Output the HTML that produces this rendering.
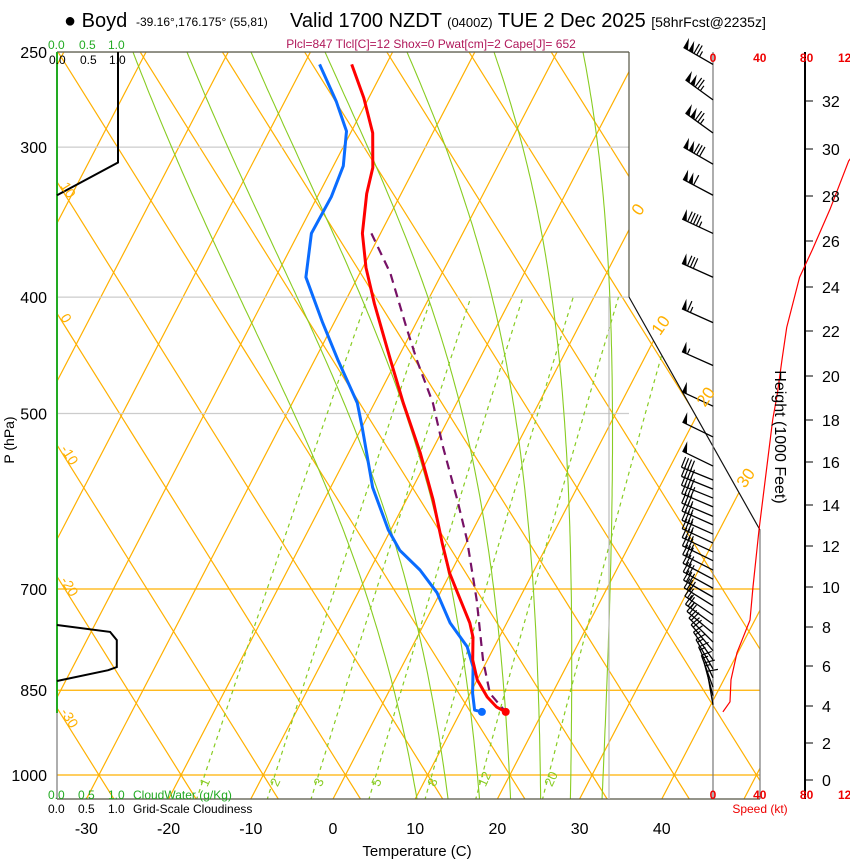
<!DOCTYPE html>
<html><head><meta charset="utf-8"><style>
html,body{margin:0;padding:0;background:#fff;}
svg{display:block;font-family:"Liberation Sans",Arial,sans-serif;}
</style></head><body>
<svg id="chart" width="850" height="860" viewBox="0 0 850 860" xmlns="http://www.w3.org/2000/svg">
<defs><clipPath id="plotclip"><path d="M57,52 L629,52 L629,297 L760,530 L760,799 L57,799 Z"/></clipPath></defs>
<g id="grid" clip-path="url(#plotclip)"></g>
<g id="frame"></g>
<g id="series"></g>
<g id="winds"></g>
<g id="labels"></g>
<text x="64" y="27" font-size="20">● Boyd</text>
<text x="136" y="26" font-size="12">-39.16°,176.175° (55,81)</text>
<text x="290" y="27" font-size="20">Valid 1700 NZDT <tspan font-size="13">(0400Z)</tspan> TUE 2 Dec 2025 <tspan font-size="14">[58hrFcst@2235z]</tspan></text>
<text x="431" y="48" font-size="12" fill="#b0185a" text-anchor="middle">Plcl=847 Tlcl[C]=12 Shox=0 Pwat[cm]=2 Cape[J]= 652</text>
<text x="417" y="856" font-size="15" text-anchor="middle">Temperature (C)</text>
<text transform="translate(14,440) rotate(-90)" font-size="14" text-anchor="middle">P (hPa)</text>
<text transform="translate(775,437) rotate(90)" font-size="16" text-anchor="middle">Height (1000 Feet)</text>
<text x="760" y="813" font-size="12" fill="#e00" text-anchor="middle">Speed (kt)</text>
<g font-size="12" fill="#2a2"><text x="48" y="49">0.0</text><text x="79" y="49">0.5</text><text x="108" y="49">1.0</text></g>
<g font-size="12"><text x="49" y="64">0.0</text><text x="80" y="64">0.5</text><text x="109" y="64">1.0</text></g>
<g font-size="12" fill="#2a2"><text x="48" y="799">0.0</text><text x="78" y="799">0.5</text><text x="108" y="799">1.0</text><text x="133" y="799">CloudWater (g/Kg)</text></g>
<g font-size="12"><text x="48" y="813">0.0</text><text x="78" y="813">0.5</text><text x="108" y="813">1.0</text><text x="133" y="813">Grid-Scale Cloudiness</text></g>
<script>
// ---- data ----
const tempP = [256,273,292,312,328,354,378,405,451,490,539,590,641,679,705,747,768,802,833,861,878,886];
const tempT = [-44.2,-40.6,-37.3,-35.1,-34.2,-32.2,-29.6,-26.3,-20.8,-16.5,-11.3,-6.75,-2.9,-0.1,2.1,5.5,6.8,8.2,10.0,12.3,14.1,15.5];
const dewP = [256,275,291,311,330,354,385,420,451,490,513,576,625,650,675,705,747,782,813,855,883,886];
const dewT = [-48.1,-43.7,-40.6,-38.8,-38.3,-38.4,-36.3,-31.4,-27.2,-22.1,-20.0,-14.9,-10.3,-7.6,-3.9,-0.4,3.1,6.7,8.7,10.3,11.6,12.6];
const parcelP = [354,382,424,451,490,533,590,637,715,802,855,886];
const parcelT = [-31.1,-26.3,-20.9,-17.6,-12.9,-8.9,-3.8,-0.1,4.9,9.45,12.4,15.5];
const speedP = [300,308,338,365,385,424,451,481,506,625,697,743,791,833,869,886];
const speedKt = [125,116,100,85,74,63,59,55,51,39.3,34.2,31.6,20.5,15.4,14.5,8.5];
const barbP = [256,274,292,310,329,354,385,420,456,493,523,553,568,578,588,598,609,619,630,641,652,663,675,687,699,711,723,736,749,762,775,788,802,816,830,845,859,874];
const barbDir = [300,306,306,300,298,295,294,294,294,295,296,296,292,292,292,293,293,294,294,295,295,296,297,298,299,300,302,304,306,310,315,320,325,330,335,340,345,350];
const barbKt = [125,125,125,130,110,95,80,65,55,50,50,50,40,40,40,38,37,36,35,35,34,33,32,31,30,29,28,27,25,22,20,18,16,15,15,14,14,10];
const cloudTopP = [250,309,329];
const cloudTopF = [1.0,1.0,0];
const cloudLowP = [750,760,772,813,818,835];
const cloudLowF = [0,0.87,0.98,0.98,0.84,0];
const xTicks = [-30,-20,-10,0,10,20,30,40];
const pTicks = [250,300,400,500,700,850,1000];
const hTicks = [0,2,4,6,8,10,12,14,16,18,20,22,24,26,28,30,32];
const hTickY = [780,743,706,666,627,587,546,505,462,420,376,331,287,241,196,149,101];
const mixW = [1,2,3,5,8,12,20];
const moistTopX = [133,187,251,325,407,494,583];
const speedTicks = [0,40,80,120];

// ---- axis functions ----
const yP = p => 775 + 521.5*Math.log(p/1000);
const xT = (T,p) => 333 + 8.22*T + 0.52*(799 - yP(p));
const xSpd = s => 713 + s*1.17;
const xCloud = f => 57 + f*61;
function yToP(y){return 1000*Math.exp((y-775)/521.5);}
const NS='http://www.w3.org/2000/svg';
function mk(tag, attrs, parent){const e=document.createElementNS(NS,tag);for(const k in attrs)e.setAttribute(k,attrs[k]);parent.appendChild(e);return e;}
const grid=document.getElementById('grid'), frame=document.getElementById('frame'),
 series=document.getElementById('series'), winds=document.getElementById('winds'), labels=document.getElementById('labels');
const OR='#ffb000', GR='#88cc22';

for(let T=-110;T<=60;T+=10){
  const l=mk('line',{x1:xT(T,1050),y1:yP(1050),x2:xT(T,240),y2:yP(240),stroke:OR,'stroke-width':1.2},grid);
  
  
}
for(let th=-60;th<=100;th+=10){
  const x0=xT(th,1000);
  const l=mk('line',{x1:x0+0.625*(799-775),y1:799,x2:x0-0.625*(775-40),y2:40,stroke:OR,'stroke-width':1.2},grid);
  
  
}
pTicks.forEach(p=>{
  const y=yP(p), orange=(p>=700);
  const l=mk('line',{x1:57,y1:y,x2:orange?760:629,y2:y,stroke:orange?OR:'#ccc','stroke-width':1.2},grid);
  
  
});
function es(Tc){return 6.112*Math.exp(17.67*Tc/(Tc+243.5));}
function tdFromW(w,p){const e=w*p/(622+w);const a=Math.log(e/6.112);return 243.5*a/(17.67-a);}
mixW.forEach(w=>{
  let d='';
  for(let p=1050;p>=400;p-=10){d+=(p===1050?'M':'L')+xT(tdFromW(w,p),p).toFixed(1)+','+yP(p).toFixed(1);}
  const l=mk('path',{d:d,fill:'none',stroke:GR,'stroke-width':1.2,'stroke-dasharray':'4,4'},grid);
  
  
  const lp=1020, lx=xT(tdFromW(w,lp),lp);
  const t=mk('text',{x:lx+6,y:yP(lp)+2,'font-size':13,fill:GR,transform:'rotate(-65 '+(lx+6)+' '+(yP(lp)+2)+')'},labels);
  t.textContent=w;
  
  
});
function moistStep(Tk,p){const Rd=287,cp=1004,Lv=2.5e6,eps=0.622;const e=es(Tk-273.15);const rs=eps*e/(p-e);
  return (Rd*Tk+Lv*rs)/(cp+Lv*Lv*rs*eps/(Rd*Tk*Tk));}
moistTopX.forEach(x0=>{
  let T=(x0-333-0.52*(799-yP(250)))/8.22+273.15, p=250, d='M'+x0+','+yP(250).toFixed(1);
  while(p<1050){const dl=0.01;const np=p*Math.exp(dl);T+=moistStep(T,p)*dl;p=np;d+='L'+xT(T-273.15,p).toFixed(1)+','+yP(p).toFixed(1);}
  const l=mk('path',{d:d,fill:'none',stroke:GR,'stroke-width':1.1},grid);
  
  
});
[[57,52,629,52,'#554'],[629,52,629,297,'#554'],[629,297,760,530,'#111'],[760,530,760,799,'#777'],[57,799,760,799,'#554'],[713,52,713,799,'#777'],[609,297,609,799,'#bbb'],[57,713,57,799,'#777']].forEach(a=>{
  const l=mk('line',{x1:a[0],y1:a[1],x2:a[2],y2:a[3],stroke:a[4],'stroke-width':1.2},frame);
  
  
});
const ga=mk('line',{x1:57,y1:52,x2:57,y2:713,stroke:'#2a2','stroke-width':2},frame);


const ha=mk('line',{x1:805,y1:52,x2:805,y2:799,stroke:'#000','stroke-width':2},frame);


hTicks.forEach((h,i)=>{
  mk('line',{x1:805,y1:hTickY[i],x2:813,y2:hTickY[i],stroke:'#000','stroke-width':1},frame);
  const t=mk('text',{x:822,y:hTickY[i]+6,'font-size':16},labels);
  t.textContent=h;
  
  
});
pTicks.forEach(p=>{
  const t=mk('text',{x:47,y:yP(p)+6,'font-size':16,'text-anchor':'end'},labels);
  t.textContent=p;
  
  
});
xTicks.forEach(T=>{
  const t=mk('text',{x:xT(T,yToP(799)),y:834,'font-size':16,'text-anchor':'middle'},labels);
  t.textContent=T;
  
  
});
speedTicks.forEach(s=>{
  [62,799].forEach(y=>{
    const big=s>=120;
    const t=mk('text',{x:big?838:xSpd(s),y:y,'font-size':12,'font-weight':'bold',fill:'#e00','text-anchor':big?'start':'middle'},labels);
    t.textContent=s;
    
    
  });
});
[-30,-20,-10,0,10].forEach(th=>{
  const y=775-(xT(th,1000)-57)/0.625;
  const t=mk('text',{x:60,y:y+4,'font-size':14,fill:OR,transform:'rotate(58 60 '+(y+4)+')'},labels);
  t.textContent=th;
  
  
});
[[0,640],[10,660],[20,705],[30,745]].forEach(a=>{
  const y=799-(a[1]-333-8.22*a[0])/0.52;
  const t=mk('text',{x:a[1],y:y+8,'font-size':17,fill:OR,transform:'rotate(-55 '+a[1]+' '+(y+8)+')'},labels);
  t.textContent=a[0];
  
  
});
function profile(P,T,color,w,dash,name){
  const d=P.map((p,i)=>(i?'L':'M')+xT(T[i],p).toFixed(1)+','+yP(p).toFixed(1)).join('');
  const a={d:d,fill:'none',stroke:color,'stroke-width':w,'stroke-linejoin':'round'};
  if(dash)a['stroke-dasharray']=dash;
  const el=mk('path',a,series);
  
  
}
profile(parcelP,parcelT,'#771166',2.2,'9,6','parcel-trace');
profile(dewP,dewT,'#0a6cff',3,null,'dewpoint-line');
profile(tempP,tempT,'#f00',3,null,'temperature-line');
const dd=mk('circle',{cx:xT(dewT[dewT.length-1],dewP[dewP.length-1]),cy:yP(dewP[dewP.length-1]),r:4,fill:'#0a6cff'},series);


const td=mk('circle',{cx:xT(tempT[tempT.length-1],tempP[tempP.length-1]),cy:yP(tempP[tempP.length-1]),r:4,fill:'#f00'},series);


function cloud(P,F,name){
  const d=P.map((p,i)=>(i?'L':'M')+xCloud(F[i]).toFixed(1)+','+yP(p).toFixed(1)).join('');
  const el=mk('path',{d:d,fill:'none',stroke:'#000','stroke-width':2},series);
  
  
}
cloud(cloudTopP,cloudTopF,'cloudiness-upper');
cloud(cloudLowP,cloudLowF,'cloudiness-lower');
const sd=speedP.map((p,i)=>(i?'L':'M')+xSpd(speedKt[i]).toFixed(1)+','+yP(p).toFixed(1)).join('');
const sp=mk('path',{d:sd,fill:'none',stroke:'#f00','stroke-width':1.2},series);


barbP.forEach((p,i)=>{
  const x0=713,y0=yP(p),a=barbDir[i]*Math.PI/180,L=34;
  const ux=Math.sin(a),uy=-Math.cos(a);
  const fx=-uy,fy=ux;
  const pfx=(fy<0)?fx:-fx, pfy=(fy<0)?fy:-fy;
  const g=mk('g',{},winds);
  
  
  const ex=x0+ux*L,ey=y0+uy*L;
  mk('line',{x1:x0,y1:y0,x2:ex,y2:ey,stroke:'#000','stroke-width':1.3},g);
  let s=Math.round(barbKt[i]/5)*5,pos=0;
  const step=3.2;
  while(s>=50){const bx=ex-ux*pos,by=ey-uy*pos,cx=ex-ux*(pos+5),cy=ey-uy*(pos+5);
    mk('polygon',{points:bx+','+by+' '+(bx+pfx*11)+','+(by+pfy*11)+' '+cx+','+cy,fill:'#000'},g);pos+=6;s-=50;}
  while(s>=10){const bx=ex-ux*pos,by=ey-uy*pos;mk('line',{x1:bx,y1:by,x2:bx+pfx*11,y2:by+pfy*11,stroke:'#000','stroke-width':1.2},g);pos+=step;s-=10;}
  if(s>=5){const bx=ex-ux*pos,by=ey-uy*pos;mk('line',{x1:bx,y1:by,x2:bx+pfx*6,y2:by+pfy*6,stroke:'#000','stroke-width':1.2},g);}
});
</script>
</svg>
</body></html>
